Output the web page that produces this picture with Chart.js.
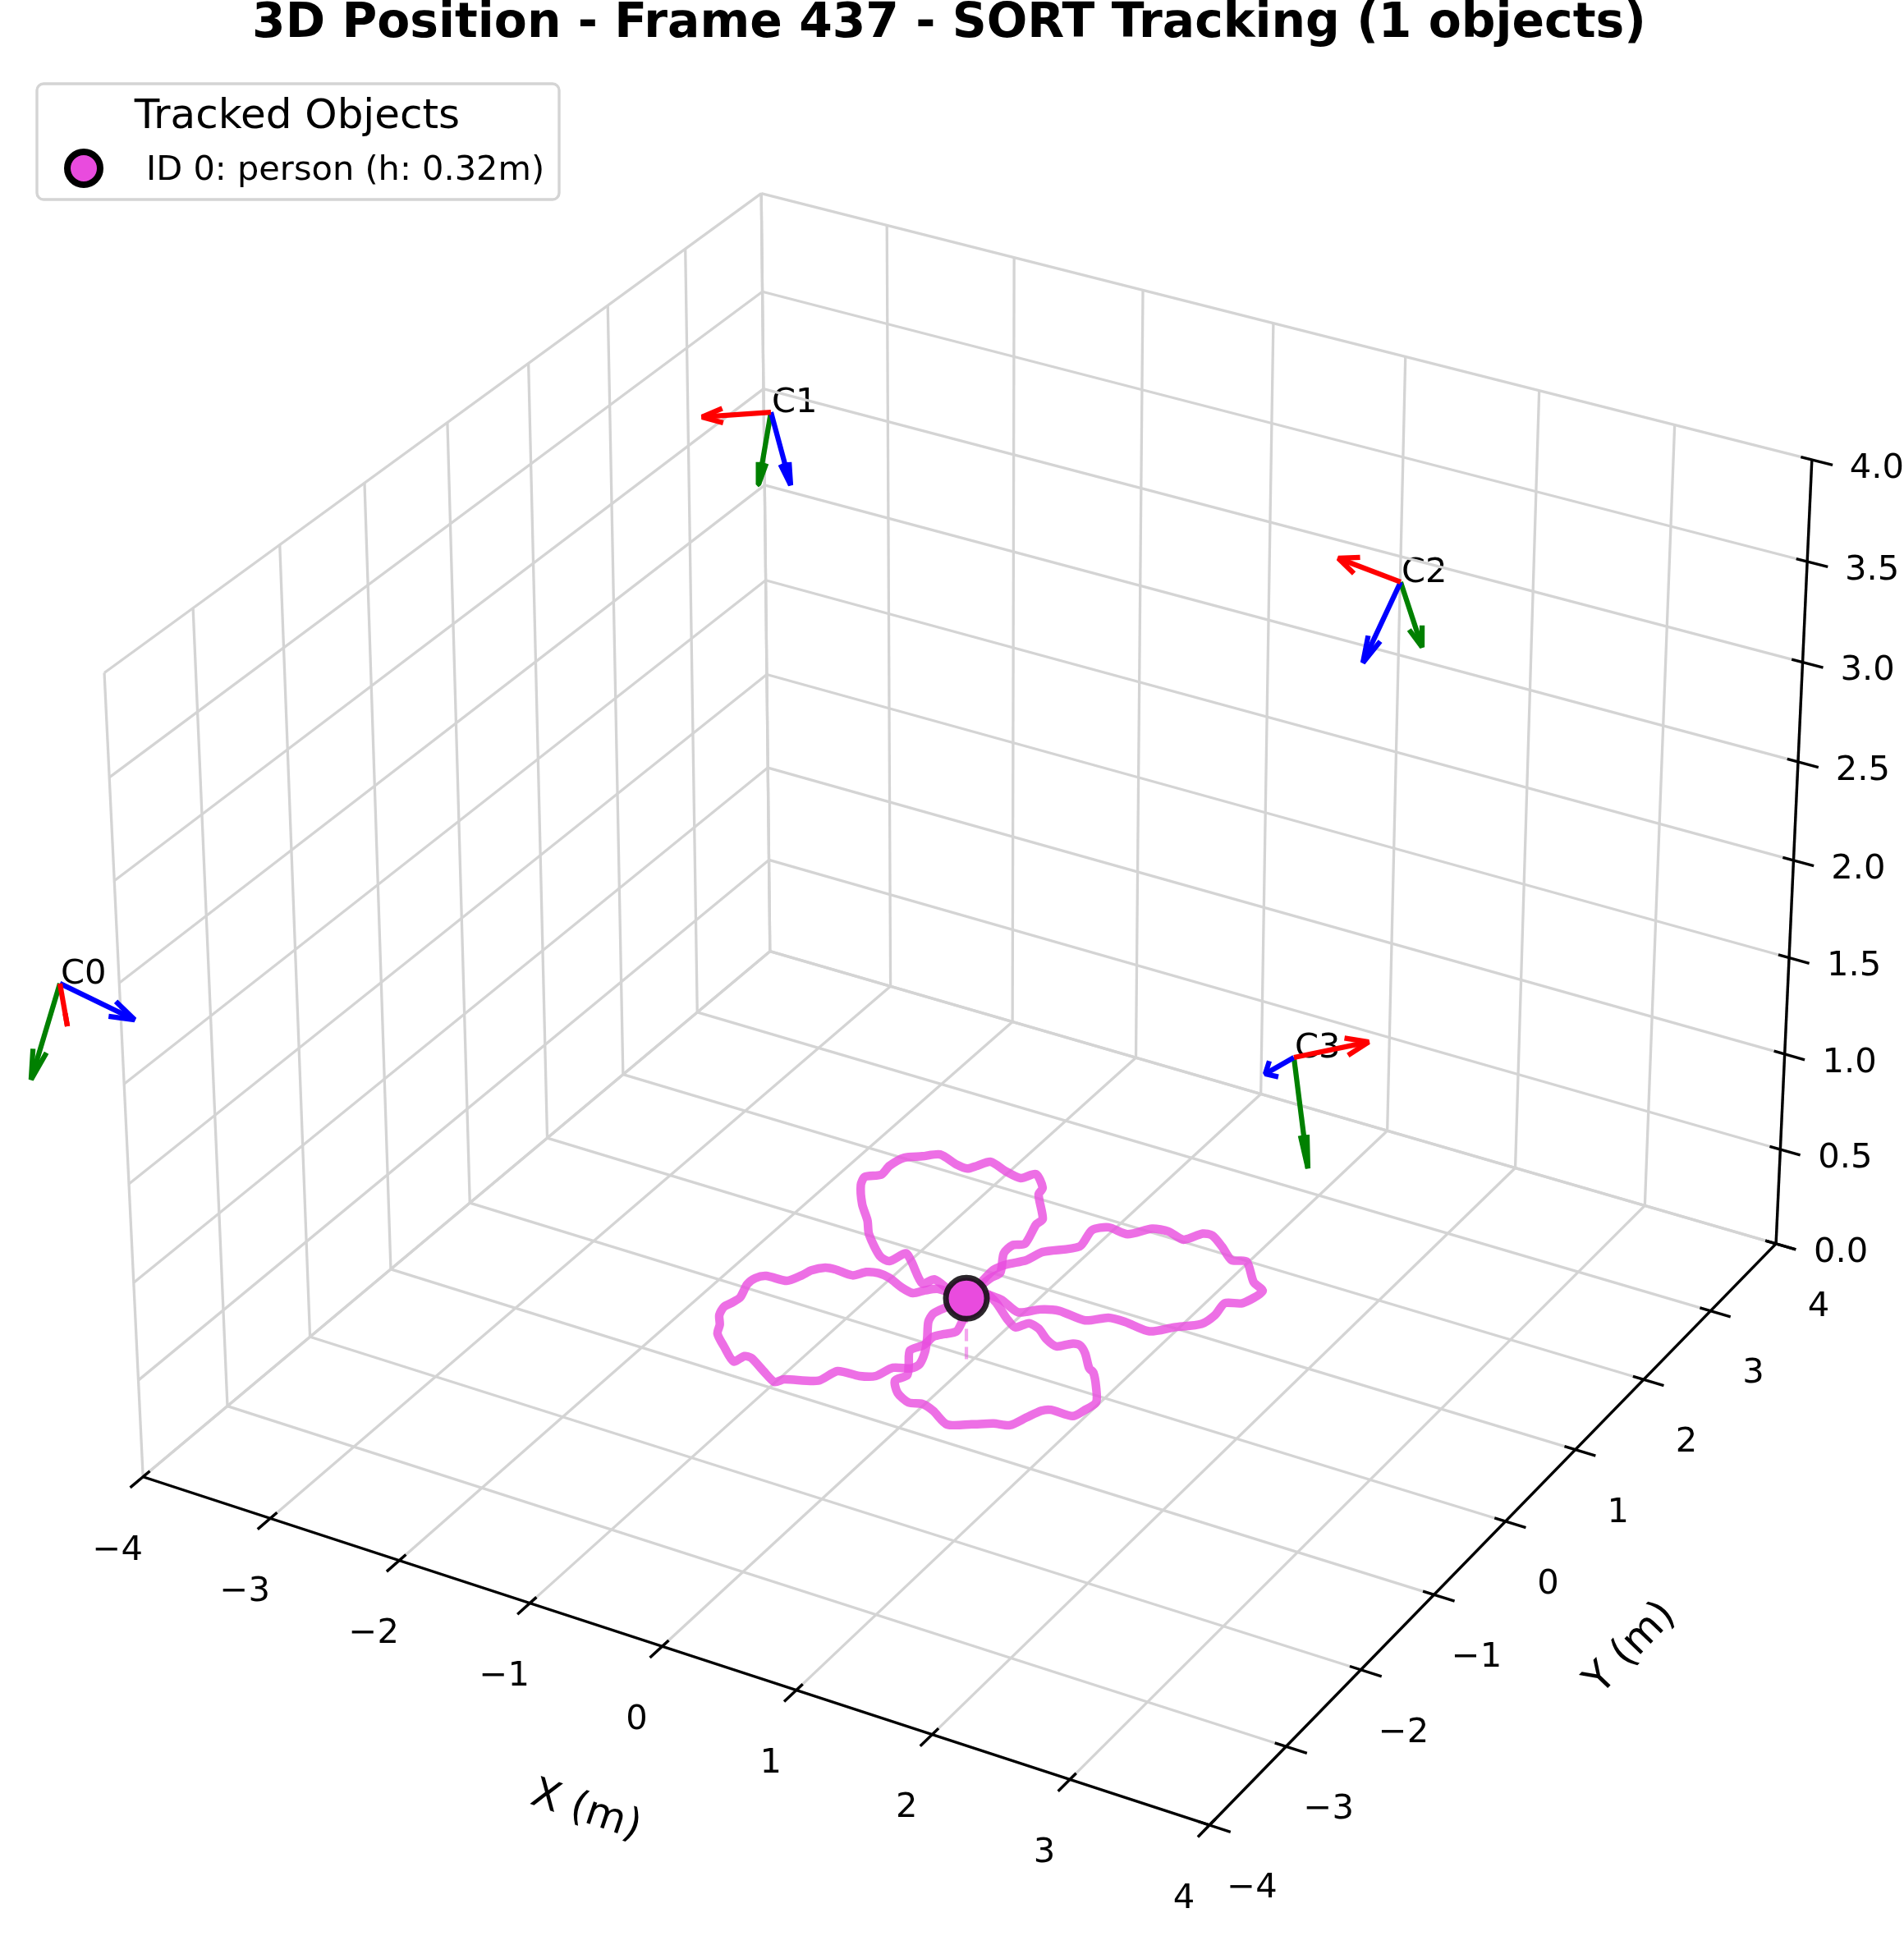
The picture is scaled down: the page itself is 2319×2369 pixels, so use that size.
<!DOCTYPE html>
<html>
<head>
<meta charset="utf-8">
<title>3D Position - SORT Tracking</title>
<style>
  html, body { margin: 0; padding: 0; background: #fff; }
  canvas { display: block; }
</style>
<script src="https://cdn.jsdelivr.net/npm/chart.js@4/dist/chart.umd.js"></script>
</head>
<body>
<canvas id="chart" width="2319" height="2369"></canvas>
<script>
const chartTitle = "3D Position - Frame 437 - SORT Tracking (1 objects)";
const legendTitle = "Tracked Objects";
const legendItem = "ID 0: person (h: 0.32m)";

const xTicks = [-4, -3, -2, -1, 0, 1, 2, 3, 4];
const yTicks = [-4, -3, -2, -1, 0, 1, 2, 3, 4];
const zTicks = [0, 0.5, 1, 1.5, 2, 2.5, 3, 3.5, 4];
const zTickLabels = ["0.0", "0.5", "1.0", "1.5", "2.0", "2.5", "3.0", "3.5", "4.0"];

// current object position, metres
const objectX = -0.04;
const objectY = -0.04;
const objectZ = 0.32;

// trajectory, one list per petal, all at the object's height
const lobeLeftX = [-0.04, -0.259, -0.329, -0.383, -0.482, -0.615, -0.71, -0.788, -0.846, -0.988, -1.055, -1.117, -1.14, -1.191, -1.343, -1.391, -1.398, -1.353, -1.365, -1.385, -1.358, -1.293, -1.247, -1.127, -0.976, -0.948, -0.897, -0.743, -0.611, -0.573, -0.37, -0.321, -0.165, -0.071, -0.026, 0.084, 0.105, 0.059, -0.014, -0.111, -0.135, -0.106, -0.046, -0.04];
const lobeLeftY = [-0.04, -0.03, -0.09, -0.162, -0.138, -0.074, -0.057, -0.086, -0.169, -0.162, -0.176, -0.252, -0.338, -0.448, -0.464, -0.524, -0.619, -0.782, -0.868, -0.94, -1.044, -1.145, -1.25, -1.365, -1.493, -1.4, -1.397, -1.496, -1.575, -1.515, -1.417, -1.252, -1.232, -1.178, -1.034, -0.979, -0.908, -0.758, -0.604, -0.422, -0.317, -0.221, -0.107, -0.04];
const lobeBottomX = [-0.04, 0.028, 0.083, 0.111, 0.058, 0.012, 0.009, -0.036, 0.051, 0.103, 0.067, 0.159, 0.28, 0.367, 0.47, 0.632, 0.771, 0.891, 0.993, 1.04, 1.084, 1.133, 1.295, 1.325, 1.345, 1.255, 1.148, 1.099, 0.984, 0.903, 0.848, 0.778, 0.681, 0.566, 0.477, 0.424, 0.326, 0.16, 0.06];
const lobeBottomY = [-0.04, -0.144, -0.311, -0.433, -0.503, -0.568, -0.689, -0.793, -0.958, -1.066, -1.164, -1.286, -1.351, -1.32, -1.357, -1.456, -1.375, -1.294, -1.259, -1.124, -1.002, -0.962, -0.957, -0.863, -0.735, -0.575, -0.423, -0.392, -0.243, -0.173, -0.185, -0.264, -0.222, -0.13, -0.103, -0.193, -0.131, 0.012, 0.075];
const lobeRightX = [0.06, 0.174, 0.346, 0.455, 0.574, 0.783, 0.9, 1.02, 1.219, 1.337, 1.474, 1.498, 1.482, 1.585, 1.627, 1.52, 1.354, 1.258, 1.118, 0.994, 0.926, 0.852, 0.712, 0.6, 0.491, 0.336, 0.257, 0.289, 0.109, 0.065, -0.02, -0.064, -0.058];
const lobeRightY = [0.075, 0.06, -0.02, 0.084, 0.133, 0.114, 0.221, 0.231, 0.208, 0.334, 0.462, 0.606, 0.768, 0.828, 1.028, 1.099, 1.305, 1.27, 1.391, 1.483, 1.472, 1.339, 1.381, 1.357, 1.212, 1.225, 1.138, 0.912, 0.727, 0.58, 0.47, 0.365, 0.207];
const lobeTopX = [-0.039, -0.028, -0.007, -0.109, -0.11, -0.047, -0.105, -0.101, -0.284, -0.304, -0.433, -0.495, -0.628, -0.779, -0.833, -0.872, -0.964, -1.127, -1.22, -1.316, -1.35, -1.34, -1.422, -1.391, -1.256, -1.117, -1.018, -0.811, -0.724, -0.679, -0.593, -0.389, -0.344, -0.187, -0.04];
const lobeTopY = [0.137, 0.265, 0.357, 0.581, 0.702, 0.759, 1.011, 1.096, 1.36, 1.451, 1.584, 1.486, 1.513, 1.57, 1.478, 1.414, 1.423, 1.482, 1.4, 1.323, 1.178, 1.051, 0.97, 0.864, 0.653, 0.488, 0.34, 0.134, 0.112, 0.252, 0.18, -0.025, 0.061, -0.008, -0.04];

// cameras: origin and the tip of each local axis, [x, y, z] in metres
const cameraLabels = ["C0", "C1", "C2", "C3"];
const cameraOrigins = [[-5.165, -3.033, 1.949], [-2.068, 0.915, 4.109], [1.781, 2.495, 3.467], [1.954, 0.798, 1.669]];
const cameraRedTips = [[-5.053, -3.129, 1.787], [-2.451, 0.676, 4.091], [1.389, 2.358, 3.557], [2.353, 1.086, 1.728]];
const cameraGreenTips = [[-5.171, -3.4, 1.586], [-2.02, 0.67, 3.836], [2.009, 2.381, 3.221], [2.215, 0.529, 1.25]];
const cameraBlueTips = [[-4.682, -2.891, 1.812], [-1.837, 0.773, 3.833], [1.699, 2.143, 3.162], [1.818, 0.658, 1.607]];

const FONT = '"DejaVu Sans"';
const TITLE_SIZE = 58.33;
const TRAIL_COLOR = "rgba(233, 75, 222, 0.8)";
const OBJECT_COLOR = "#e94bde";
const GRID_COLOR = "#d4d4d4";
// how wide each arrow head looks, as a share of the arrow's drawn length
const RED_HEADS = [0, 0.21, 0.26, 0.23];
const GREEN_HEADS = [0.14, 0.11, 0.2, 0.06];
const BLUE_HEADS = [0.2, 0.12, 0.15, 0.55];

// same camera as matplotlib's default 3D view: elev 30, azim -60, dist 10
const LIMIT = 4;
const Z_TOP = 4;
const UNIT_XY = 0.1488;
const UNIT_Z = 0.2232;

function project(x, y, z) {
  const qx = x * UNIT_XY;
  const qy = y * UNIT_XY;
  const qz = (z - Z_TOP / 2) * UNIT_Z;
  const side = 0.866 * qx + 0.5 * qy;
  const up = -0.25 * qx + 0.433 * qy + 0.866 * qz;
  const toward = 0.433 * qx - 0.75 * qy + 0.5 * qz;
  const depth = 10 - toward;
  return { x: side / depth, y: up / depth };
}

const datasets = [];

function addLine(points, color, width, extra) {
  datasets.push(Object.assign({
    data: points,
    showLine: true,
    borderColor: color,
    borderWidth: width,
    pointRadius: 0,
    tension: 0,
    fill: false,
  }, extra || {}));
}

function addSegment(a, b, color, width) {
  addLine([project(a[0], a[1], a[2]), project(b[0], b[1], b[2])], color, width);
}

// panes and grid
xTicks.forEach((x) => {
  addSegment([x, -LIMIT, 0], [x, LIMIT, 0], GRID_COLOR, 3.3);
  addSegment([x, LIMIT, 0], [x, LIMIT, Z_TOP], GRID_COLOR, 3.3);
});
yTicks.forEach((y) => {
  addSegment([-LIMIT, y, 0], [LIMIT, y, 0], GRID_COLOR, 3.3);
  addSegment([-LIMIT, y, 0], [-LIMIT, y, Z_TOP], GRID_COLOR, 3.3);
});
zTicks.forEach((z) => {
  addSegment([-LIMIT, -LIMIT, z], [-LIMIT, LIMIT, z], GRID_COLOR, 3.3);
  addSegment([-LIMIT, LIMIT, z], [LIMIT, LIMIT, z], GRID_COLOR, 3.3);
});

// axis lines and ticks
addSegment([-LIMIT, -LIMIT, 0], [LIMIT, -LIMIT, 0], "#000", 3.4);
addSegment([LIMIT, -LIMIT, 0], [LIMIT, LIMIT, 0], "#000", 3.4);
addSegment([LIMIT, LIMIT, 0], [LIMIT, LIMIT, Z_TOP], "#000", 3.4);
xTicks.forEach((x) => addSegment([x, -LIMIT + 0.08, 0], [x, -LIMIT - 0.15, 0], "#000", 3.4));
yTicks.forEach((y) => addSegment([LIMIT - 0.08, y, 0], [LIMIT + 0.15, y, 0], "#000", 3.4));
zTicks.forEach((z) => addSegment([LIMIT - 0.08, LIMIT, z], [LIMIT + 0.15, LIMIT, z], "#000", 3.4));

// trajectory petals
[
  [lobeLeftX, lobeLeftY],
  [lobeBottomX, lobeBottomY],
  [lobeRightX, lobeRightY],
  [lobeTopX, lobeTopY],
].forEach(([xs, ys]) => {
  addLine(xs.map((x, i) => project(x, ys[i], objectZ)), TRAIL_COLOR, 10.5, {
    tension: 0.25,
    borderJoinStyle: "round",
    borderCapStyle: "round",
  });
});

// dashed drop line from the floor up to the object
addLine([project(objectX, objectY, 0), project(objectX, objectY, objectZ)], "rgba(233, 75, 222, 0.5)", 4.2, {
  borderDash: [15, 7],
});

function addArrow(origin, tip, spread, color) {
  const from = project(origin[0], origin[1], origin[2]);
  const to = project(tip[0], tip[1], tip[2]);
  const dx = to.x - from.x;
  const dy = to.y - from.y;
  const baseX = to.x - 0.3 * dx;
  const baseY = to.y - 0.3 * dy;
  const armA = { x: baseX - (dy * spread) / 2, y: baseY + (dx * spread) / 2 };
  const armB = { x: baseX + (dy * spread) / 2, y: baseY - (dx * spread) / 2 };
  addLine([from, to], color, 6.25);
  addLine([armA, to, armB], color, 6.25, { borderJoinStyle: "bevel" });
}

cameraOrigins.forEach((origin, i) => {
  addArrow(origin, cameraGreenTips[i], GREEN_HEADS[i], "#008000");
  addArrow(origin, cameraBlueTips[i], BLUE_HEADS[i], "#0000ff");
  addArrow(origin, cameraRedTips[i], RED_HEADS[i], "#ff0000");
});

// the object itself goes on top
datasets.push({
  data: [project(objectX, objectY, objectZ)],
  showLine: false,
  pointRadius: 25,
  pointBackgroundColor: OBJECT_COLOR,
  pointBorderColor: "rgba(20, 15, 20, 0.9)",
  pointBorderWidth: 7,
});

function drawText(ctx, text, x, y, size, options) {
  const opts = options || {};
  ctx.save();
  ctx.font = `${size}px ${FONT}`;
  ctx.fillStyle = "#000";
  ctx.textAlign = opts.align || "center";
  ctx.textBaseline = opts.baseline || "middle";
  ctx.translate(x, y);
  if (opts.rotate) ctx.rotate((opts.rotate * Math.PI) / 180);
  ctx.fillText(text, 0, 0);
  ctx.restore();
}

const sceneText = {
  id: "sceneText",
  afterLayout(chart) {
    // the title sits a little left of the canvas centre
    chart.titleBlock.left = -7;
    chart.titleBlock.top = 1;
  },
  beforeDatasetsDraw(chart) {
    const ctx = chart.ctx;
    const toPixel = (x, y, z) => {
      const p = project(x, y, z);
      return { x: chart.scales.x.getPixelForValue(p.x), y: chart.scales.y.getPixelForValue(p.y) };
    };
    xTicks.forEach((x) => {
      const p = toPixel(x, -LIMIT, 0);
      drawText(ctx, String(x).replace("-", "\u2212"), p.x - 31, p.y + 90, 41.67);
    });
    yTicks.forEach((y) => {
      const p = toPixel(LIMIT, y, 0);
      drawText(ctx, String(y).replace("-", "\u2212"), p.x + 52, p.y + 77, 41.67);
    });
    zTicks.forEach((z, i) => {
      const p = toPixel(LIMIT, LIMIT, z);
      drawText(ctx, zTickLabels[i], p.x + 79, p.y + 11, 41.67);
    });
    const xMid = toPixel(0, -LIMIT, 0);
    drawText(ctx, "X (m)", xMid.x - 93, xMid.y + 201, 50, { rotate: 18.6 });
    const yMid = toPixel(LIMIT, 0, 0);
    drawText(ctx, "Y (m)", yMid.x + 153, yMid.y + 155, 50, { rotate: -46 });
    cameraOrigins.forEach((origin, i) => {
      const p = toPixel(origin[0], origin[1], origin[2]);
      drawText(ctx, cameraLabels[i], p.x + 1, p.y, 41.67, { align: "left", baseline: "alphabetic" });
    });
  },
  afterDatasetsDraw(chart) {
    const ctx = chart.ctx;
    ctx.save();
    ctx.beginPath();
    ctx.roundRect(45, 102, 636, 141, 8);
    ctx.fillStyle = "rgba(255, 255, 255, 0.8)";
    ctx.fill();
    ctx.lineWidth = 3.4;
    ctx.strokeStyle = GRID_COLOR;
    ctx.stroke();
    ctx.beginPath();
    ctx.arc(102, 205, 20, 0, Math.PI * 2);
    ctx.fillStyle = OBJECT_COLOR;
    ctx.fill();
    ctx.lineWidth = 8;
    ctx.strokeStyle = "#000";
    ctx.stroke();
    ctx.restore();
    drawText(ctx, legendTitle, 362, 156, 50, { baseline: "alphabetic" });
    drawText(ctx, legendItem, 178, 219, 41.5, { align: "left", baseline: "alphabetic" });
  },
};

// one projected unit is 12500 px; the view centre sits at (1187, 1181.5)
const PX_PER_UNIT = 12500;

new Chart(document.getElementById("chart"), {
  type: "scatter",
  data: { datasets: datasets.reverse() },
  plugins: [sceneText],
  options: {
    responsive: false,
    animation: false,
    devicePixelRatio: 1,
    layout: { padding: 0, autoPadding: false },
    scales: {
      x: { type: "linear", display: false, min: -1187 / PX_PER_UNIT, max: (2319 - 1187) / PX_PER_UNIT },
      y: { type: "linear", display: false, min: (1181.5 - 2369) / PX_PER_UNIT, max: (1181.5 - TITLE_SIZE) / PX_PER_UNIT },
    },
    plugins: {
      legend: { display: false },
      tooltip: { enabled: false },
      title: {
        display: true,
        text: chartTitle,
        color: "#000",
        padding: 0,
        font: { family: "DejaVu Sans", size: TITLE_SIZE, weight: "bold", lineHeight: 1 },
      },
    },
  },
});
</script>
</body>
</html>
